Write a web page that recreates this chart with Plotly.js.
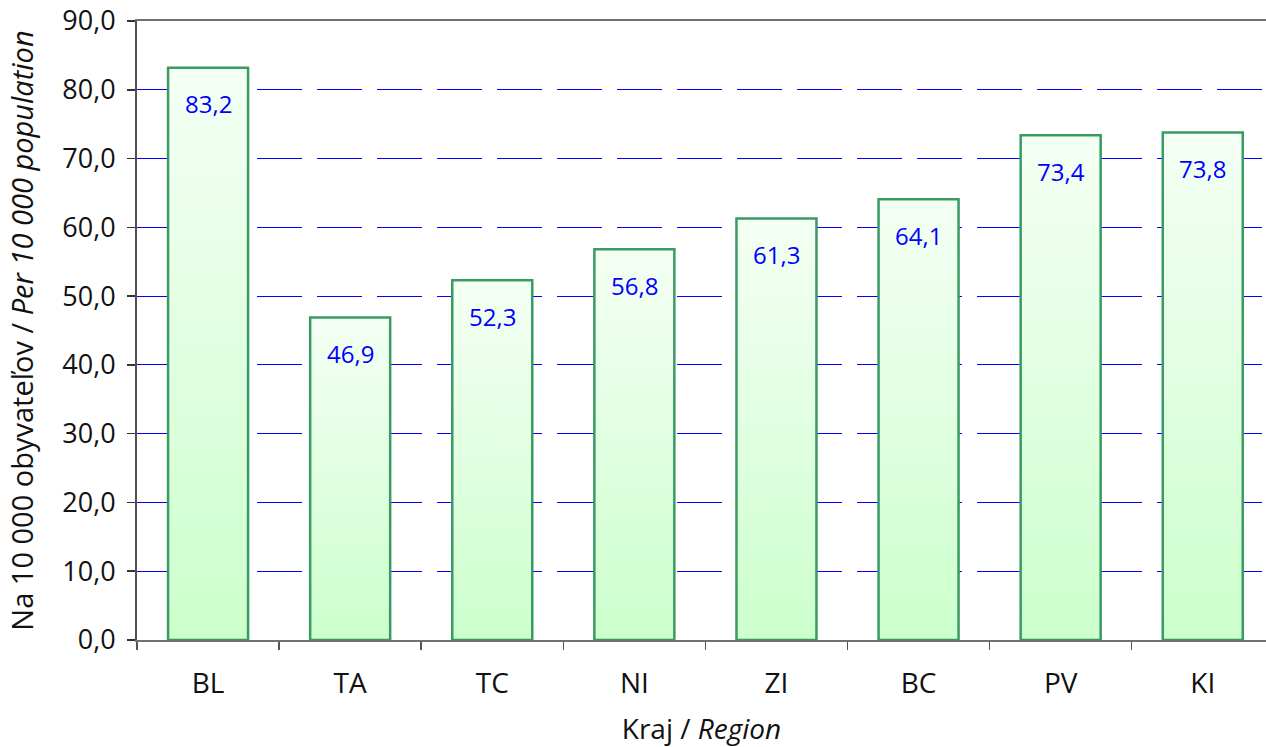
<!DOCTYPE html>
<html>
<head>
<meta charset="utf-8">
<script src="https://cdn.plot.ly/plotly-3.0.1.min.js"></script>
<style>html,body{margin:0;padding:0;overflow:hidden;background:#fff;}</style>
</head>
<body>
<div id="chart" style="width:1266px;height:747px;"></div>
<script>
const categories = ["BL", "TA", "TC", "NI", "ZI", "BC", "PV", "KI"];
const values = [83.2, 46.9, 52.3, 56.8, 61.3, 64.1, 73.4, 73.8];
const yTitle = "Na 10 000 obyvateľov / <i>Per 10 000 population</i>";
const xTitle = "Kraj / <i>Region</i>";

const fmt = v => v.toFixed(1).replace('.', ',');
const FONT = "Open Sans, sans-serif";

const trace = {
  type: 'bar',
  x: categories,
  y: values,
  width: 0.563,
  marker: {color: '#DDFFDD', line: {color: '#3A9A64', width: 2.5}},
  hoverinfo: 'none'
};

const annotations = categories.map((c, i) => ({
  x: c, y: values[i], xref: 'x', yref: 'y',
  text: fmt(values[i]), showarrow: false,
  yanchor: 'middle', yshift: -36,
  font: {family: FONT, size: 24, color: '#0000FF'}
}));

const layout = {
  width: 1266, height: 747,
  margin: {l: 137, r: 0, t: 21, b: 107},
  paper_bgcolor: '#fff', plot_bgcolor: '#fff',
  separators: ', ',
  showlegend: false,
  font: {family: FONT, size: 26, color: '#000'},
  xaxis: {
    type: 'category',
    range: [-0.5, 7.445],
    showline: true, linecolor: '#707070', linewidth: 2, mirror: true,
    ticks: 'outside', tickson: 'boundaries', ticklen: 8, tickcolor: '#555', tickwidth: 1.5,
    ticklabelstandoff: 17,
    showgrid: false, zeroline: false,
    tickfont: {family: FONT, size: 28, color: '#111'},
    title: {text: xTitle, font: {family: FONT, size: 28, color: '#111'}, standoff: 26}
  },
  yaxis: {
    range: [0, 90], dtick: 10, tick0: 0, tickformat: '.1f',
    showline: true, linecolor: '#505050', linewidth: 2,
    ticks: 'outside', ticklen: 8, tickcolor: '#333', tickwidth: 1.5,
    ticklabelstandoff: 6, ticklabeloverflow: 'allow',
    showgrid: true, gridcolor: '#0000FF', gridwidth: 1, griddash: '45px,15px',
    zeroline: false,
    tickfont: {family: FONT, size: 27, color: '#111'},
    title: {text: yTitle, font: {family: FONT, size: 29, color: '#111'}, standoff: 20}
  },
  annotations: annotations
};

Plotly.newPlot('chart', [trace], layout, {displayModeBar: false, staticPlot: true}).then(gd => {
  const svg = gd.querySelector('svg.main-svg');
  const ns = 'http://www.w3.org/2000/svg';
  let defs = svg.querySelector('defs');
  if (!defs) { defs = document.createElementNS(ns, 'defs'); svg.insertBefore(defs, svg.firstChild); }
  const g = document.createElementNS(ns, 'linearGradient');
  g.setAttribute('id', 'barGrad');
  g.setAttribute('x1', '0'); g.setAttribute('y1', '0');
  g.setAttribute('x2', '0'); g.setAttribute('y2', '1');
  [['0', '#F4FFF4'], ['1', '#CCFFCC']].forEach(([o, c]) => {
    const s = document.createElementNS(ns, 'stop');
    s.setAttribute('offset', o); s.setAttribute('stop-color', c);
    g.appendChild(s);
  });
  defs.appendChild(g);
  gd.querySelectorAll('.barlayer .point path').forEach(p => { p.style.fill = 'url(#barGrad)'; });
});
</script>
</body>
</html>
